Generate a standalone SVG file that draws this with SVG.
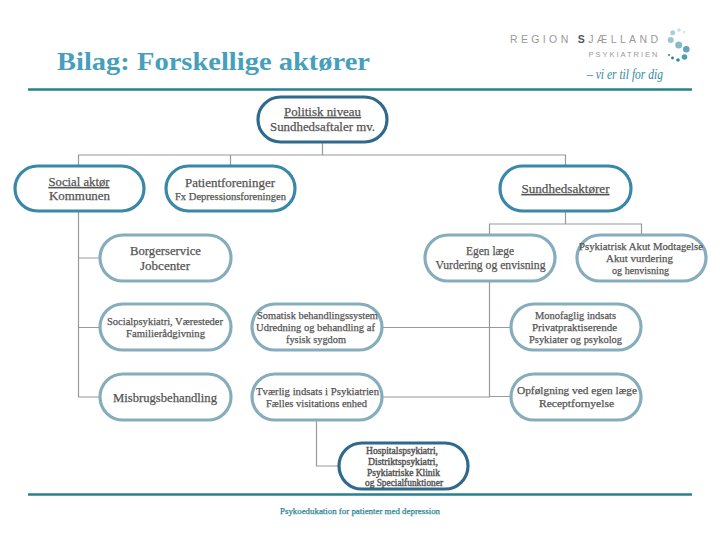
<svg xmlns="http://www.w3.org/2000/svg" width="720" height="540" viewBox="0 0 720 540">
<style>
text{font-family:"Liberation Serif","Times New Roman",serif;fill:#555;text-anchor:middle;font-size:12.500px;stroke:#555;stroke-width:.25px}
.s{font-size:11px}
.x{font-size:9.500px;stroke-width:.4px}
.u{text-decoration:underline}
.n{fill:#fff;stroke-width:3.200}
.d{stroke:#2f6a8c}.m{stroke:#3a88a8}.l{stroke:#86adbc}
.c{fill:none;stroke:#999;stroke-width:1.200}
.r{stroke:#27808f;stroke-width:2.400}
.g{font-family:"Liberation Sans",sans-serif;fill:#999;stroke:none}
</style>
<rect width="720" height="540" fill="#fff"/>
<text x="213.500" y="69.500" style="font-size:25.500px;font-weight:bold;fill:#46a0bb;stroke:none" textLength="313" lengthAdjust="spacingAndGlyphs">Bilag: Forskellige aktører</text>
<line class="r" x1="28" y1="89.500" x2="692" y2="89.500"/>
<line class="r" x1="28" y1="494.500" x2="692" y2="494.500"/>
<g id="logo">
<text class="g" x="584" y="43" style="font-size:10.500px" textLength="148" lengthAdjust="spacing">REGION <tspan style="fill:#555;font-weight:bold">S</tspan>JÆLLAND</text>
<text class="g" x="623" y="57" style="font-size:7.500px" textLength="69" lengthAdjust="spacing">PSYKIATRIEN</text>
<text x="625" y="79" style="font-style:italic;font-size:15px;fill:#2f8a9a;stroke:none" textLength="76" lengthAdjust="spacingAndGlyphs">– vi er til for dig</text>
<g fill="#4f9db3">
<circle cx="672.700" cy="32.700" r="2.500" fill="#a9cfdb"/><circle cx="679" cy="30" r="1.800" fill="#c5dfe7"/><circle cx="684" cy="32" r="1.200" fill="#d5e7ec"/>
<circle cx="670.700" cy="40" r="3" fill="#9cc6d3"/><circle cx="678.700" cy="45" r="3.500" fill="#88b9c9"/><circle cx="686.300" cy="49.300" r="3.300" fill="#62a5ba"/><circle cx="684.500" cy="57" r="2.800"/>
<circle cx="678" cy="60" r="1.800" fill="#2f8a9a"/><circle cx="672.500" cy="58" r="1.400" fill="#2f7f8f"/><circle cx="669" cy="55" r="1" fill="#2f7f8f"/>
</g>
</g>
<g id="connectors">
<path class="c" d="M322.500 143V155M78.500 165V155H565.500V165M230.500 155V165"/>
<path class="c" d="M78.500 211V397H100M78.500 258H100M78.500 327.500H100"/>
<path class="c" d="M565.500 211V224M489.500 234V224H641.500V234"/>
<path class="c" d="M489.500 281V397H383M383 327.500H510M489.500 396.500H510"/>
<path class="c" d="M316.500 420V466H338"/>
</g>
<g id="politisk"><rect class="n d" x="258" y="97" width="129" height="45" rx="22.500"/><text class="u" x="322.500" y="116" textLength="77" lengthAdjust="spacingAndGlyphs">Politisk niveau</text><text x="322.500" y="130.500" textLength="105" lengthAdjust="spacingAndGlyphs">Sundhedsaftaler mv.</text></g>
<g id="social"><rect class="n m" x="15" y="166" width="129" height="45" rx="22.500"/><text class="u" x="79" y="186" textLength="61" lengthAdjust="spacingAndGlyphs">Social aktør</text><text x="79.500" y="200" textLength="61" lengthAdjust="spacingAndGlyphs">Kommunen</text></g>
<g id="patient"><rect class="n m" x="166" y="166" width="129" height="45" rx="22.500"/><text x="230" y="187" textLength="90" lengthAdjust="spacingAndGlyphs">Patientforeninger</text><text class="s" x="230.500" y="199.500" textLength="111" lengthAdjust="spacingAndGlyphs">Fx Depressionsforeningen</text></g>
<g id="sundhed"><rect class="n m" x="500" y="166" width="131" height="45" rx="22.500"/><text class="u" x="565.500" y="193" textLength="88" lengthAdjust="spacingAndGlyphs">Sundhedsaktører</text></g>
<g id="borger"><rect class="n l" x="100" y="235" width="131" height="46" rx="23"/><text x="165.500" y="255" textLength="71" lengthAdjust="spacingAndGlyphs">Borgerservice</text><text x="165" y="270" textLength="50" lengthAdjust="spacingAndGlyphs">Jobcenter</text></g>
<g id="egen"><rect class="n l" x="425" y="235" width="130" height="46" rx="23"/><text x="490" y="255" textLength="48" lengthAdjust="spacingAndGlyphs">Egen læge</text><text x="490.500" y="269" textLength="110" lengthAdjust="spacingAndGlyphs">Vurdering og envisning</text></g>
<g id="akut"><rect class="n l" x="577" y="235" width="129" height="46" rx="23"/><text class="s" x="641" y="250" textLength="124" lengthAdjust="spacingAndGlyphs">Psykiatrisk Akut Modtagelse</text><text class="s" x="639.500" y="262" textLength="67" lengthAdjust="spacingAndGlyphs">Akut vurdering</text><text class="s" x="640.500" y="274" textLength="57" lengthAdjust="spacingAndGlyphs">og henvisning</text></g>
<g id="socialpsyk"><rect class="n l" x="100" y="304" width="131" height="46" rx="23"/><text class="s" x="165" y="325" textLength="116" lengthAdjust="spacingAndGlyphs">Socialpsykiatri, Væresteder</text><text class="s" x="165.500" y="337" textLength="79" lengthAdjust="spacingAndGlyphs">Familierådgivning</text></g>
<g id="somatisk"><rect class="n l" x="252" y="304" width="130" height="46" rx="23"/><text class="s" x="317.500" y="319" textLength="121" lengthAdjust="spacingAndGlyphs">Somatisk behandlingssystem</text><text class="s" x="315.500" y="331" textLength="119" lengthAdjust="spacingAndGlyphs">Udredning og behandling af</text><text class="s" x="316" y="343" textLength="60" lengthAdjust="spacingAndGlyphs">fysisk sygdom</text></g>
<g id="monofaglig"><rect class="n l" x="511" y="304" width="130" height="46" rx="23"/><text class="s" x="575.500" y="319" textLength="81" lengthAdjust="spacingAndGlyphs">Monofaglig indsats</text><text class="s" x="574.500" y="331" textLength="85" lengthAdjust="spacingAndGlyphs">Privatpraktiserende</text><text class="s" x="575.500" y="343" textLength="93" lengthAdjust="spacingAndGlyphs">Psykiater og psykolog</text></g>
<g id="misbrug"><rect class="n l" x="100" y="374" width="131" height="46" rx="23"/><text x="165" y="401.500" textLength="104" lengthAdjust="spacingAndGlyphs">Misbrugsbehandling</text></g>
<g id="tvaerlig"><rect class="n l" x="252" y="374" width="130" height="46" rx="23"/><text class="s" x="317.500" y="395" textLength="123" lengthAdjust="spacingAndGlyphs">Tværlig indsats i Psykiatrien</text><text class="s" x="316.500" y="407" textLength="101" lengthAdjust="spacingAndGlyphs">Fælles visitations enhed</text></g>
<g id="opfolgning"><rect class="n l" x="511" y="374" width="130" height="46" rx="23"/><text class="s" x="577" y="394" textLength="120" lengthAdjust="spacingAndGlyphs">Opfølgning ved egen læge</text><text class="s" x="576.500" y="407" textLength="75" lengthAdjust="spacingAndGlyphs">Receptfornyelse</text></g>
<g id="hospital"><rect class="n d" x="339" y="443" width="129" height="46" rx="23"/><text class="x" x="402" y="454" textLength="72" lengthAdjust="spacingAndGlyphs">Hospitalspsykiatri,</text><text class="x" x="403" y="465" textLength="70" lengthAdjust="spacingAndGlyphs">Distriktspsykiatri,</text><text class="x" x="403.500" y="475.500" textLength="73" lengthAdjust="spacingAndGlyphs">Psykiatriske Klinik</text><text class="x" x="404" y="486" textLength="78" lengthAdjust="spacingAndGlyphs">og Specialfunktioner</text></g>
<text x="360" y="514" style="font-size:9px;fill:#2a8494;stroke:#2a8494" textLength="160" lengthAdjust="spacingAndGlyphs">Psykoedukation for patienter med depression</text>
</svg>
